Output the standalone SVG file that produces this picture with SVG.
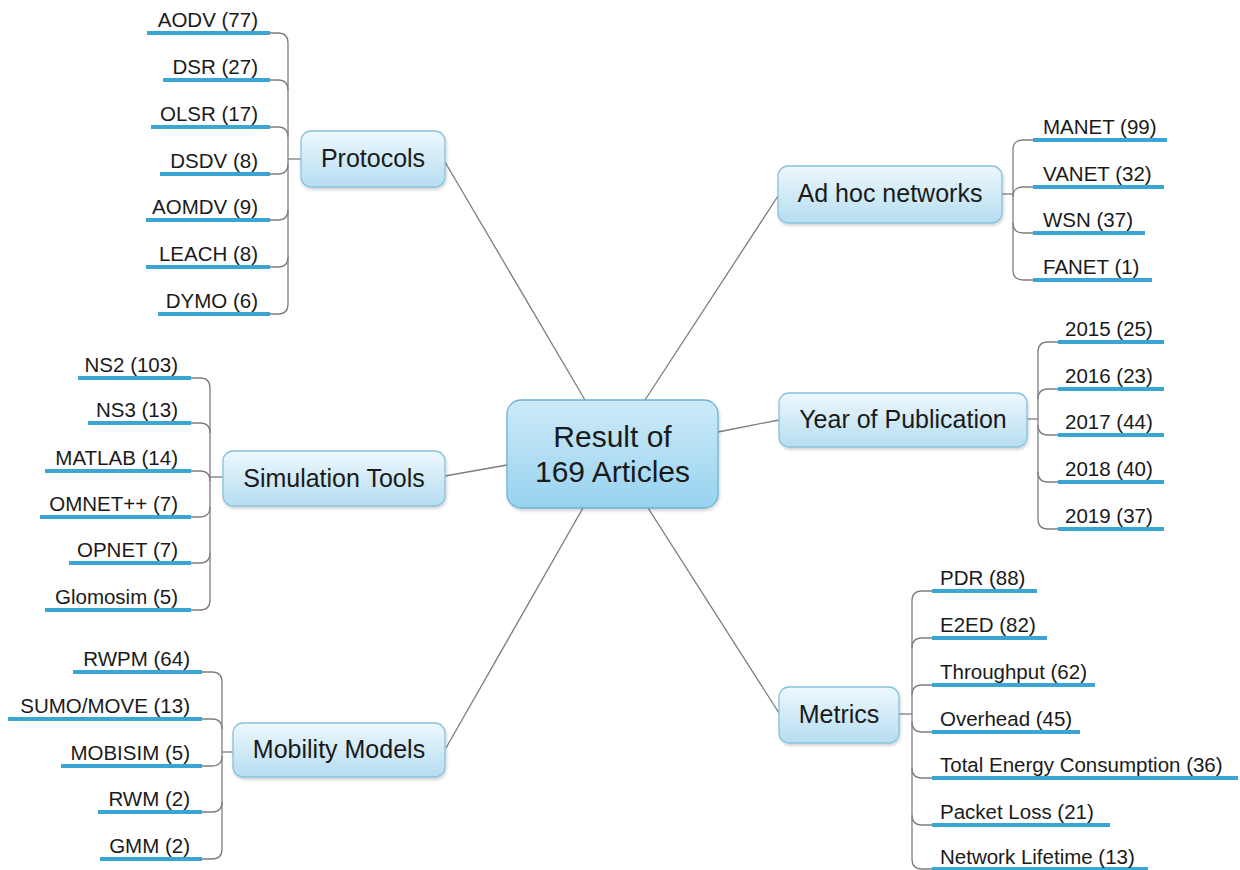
<svg xmlns="http://www.w3.org/2000/svg" width="1240" height="870" viewBox="0 0 1240 870">
<defs>
  <linearGradient id="gBranch" x1="0" y1="0" x2="0" y2="1">
    <stop offset="0" stop-color="#edf8fd"/>
    <stop offset="1" stop-color="#b6ddf0"/>
  </linearGradient>
  <linearGradient id="gCenter" x1="0" y1="0" x2="0" y2="1">
    <stop offset="0" stop-color="#cdebf8"/>
    <stop offset="1" stop-color="#97d2ef"/>
  </linearGradient>
  <filter id="sh" x="-10%" y="-10%" width="130%" height="140%">
    <feDropShadow dx="1" dy="2" stdDeviation="1.5" flood-color="#000" flood-opacity="0.18"/>
  </filter>
</defs>
<style>
  .branch rect { fill: url(#gBranch); stroke: #86c2de; stroke-width: 1.3; filter: url(#sh); }
  .center rect { fill: url(#gCenter); stroke: #6cb2d5; stroke-width: 1.3; filter: url(#sh); }
  .branch text { font-family: "Liberation Sans", Arial, sans-serif; font-size: 25px; fill: #1a1a1a; text-anchor: middle; }
  .center text { font-family: "Liberation Sans", Arial, sans-serif; font-size: 30px; fill: #1a1a1a; text-anchor: middle; }
  .leaf text { font-family: "Liberation Sans", Arial, sans-serif; font-size: 20.5px; fill: #1a1a1a; }
  .leaf.l text { text-anchor: end; }
  .leaf.r text { text-anchor: start; }
  .leaf line { stroke: #3ba5d3; stroke-width: 4; }
  #connectors path, #connectors line { fill: none; stroke: #7d7d7d; stroke-width: 1.3; }
</style>
<rect width="1240" height="870" fill="#ffffff"/>

<g id="connectors">
  <!-- center to branches -->
  <line x1="445" y1="162" x2="585" y2="400"/>
  <line x1="778" y1="196" x2="645" y2="400"/>
  <line x1="779" y1="420" x2="718" y2="432"/>
  <line x1="445" y1="476" x2="507" y2="465"/>
  <line x1="446" y1="748" x2="583" y2="508"/>
  <line x1="779" y1="713" x2="648" y2="508"/>

  <!-- Protocols bracket: xv=288 -->
  <path d="M301 159 H288"/>
  <path d="M288 43 V304"/>
  <path d="M288 43 Q288 33 278 33 H270"/>
  <path d="M288 90 Q288 80 278 80 H270"/>
  <path d="M288 137 Q288 127 278 127 H270"/>
  <path d="M288 164 Q288 174 278 174 H270"/>
  <path d="M288 210 Q288 220 278 220 H270"/>
  <path d="M288 257 Q288 267 278 267 H270"/>
  <path d="M288 304 Q288 314 278 314 H270"/>

  <!-- Simulation Tools bracket: xv=210 -->
  <path d="M223 477 H210"/>
  <path d="M210 388 V600"/>
  <path d="M210 388 Q210 378 200 378 H191"/>
  <path d="M210 433 Q210 423 200 423 H191"/>
  <path d="M210 481 Q210 471 200 471 H191"/>
  <path d="M210 507 Q210 517 200 517 H191"/>
  <path d="M210 553 Q210 563 200 563 H191"/>
  <path d="M210 600 Q210 610 200 610 H191"/>

  <!-- Mobility Models bracket: xv=222 -->
  <path d="M233 752 H222"/>
  <path d="M222 682 V849"/>
  <path d="M222 682 Q222 672 212 672 H202"/>
  <path d="M222 729 Q222 719 212 719 H202"/>
  <path d="M222 756 Q222 766 212 766 H202"/>
  <path d="M222 802 Q222 812 212 812 H202"/>
  <path d="M222 849 Q222 859 212 859 H202"/>

  <!-- Ad hoc networks bracket: xv=1013 -->
  <path d="M1002 194 H1013"/>
  <path d="M1013 150 V270"/>
  <path d="M1013 150 Q1013 140 1023 140 H1033"/>
  <path d="M1013 197 Q1013 187 1023 187 H1033"/>
  <path d="M1013 223 Q1013 233 1023 233 H1033"/>
  <path d="M1013 270 Q1013 280 1023 280 H1033"/>

  <!-- Year of Publication bracket: xv=1038 -->
  <path d="M1027 419 H1038"/>
  <path d="M1038 352 V519"/>
  <path d="M1038 352 Q1038 342 1048 342 H1058"/>
  <path d="M1038 399 Q1038 389 1048 389 H1058"/>
  <path d="M1038 425 Q1038 435 1048 435 H1058"/>
  <path d="M1038 472 Q1038 482 1048 482 H1058"/>
  <path d="M1038 519 Q1038 529 1048 529 H1058"/>

  <!-- Metrics bracket: xv=912 -->
  <path d="M899 714 H912"/>
  <path d="M912 601 V859"/>
  <path d="M912 601 Q912 591 922 591 H932"/>
  <path d="M912 648 Q912 638 922 638 H932"/>
  <path d="M912 695 Q912 685 922 685 H932"/>
  <path d="M912 722 Q912 732 922 732 H932"/>
  <path d="M912 768 Q912 778 922 778 H932"/>
  <path d="M912 815 Q912 825 922 825 H932"/>
  <path d="M912 859 Q912 869 922 869 H932"/>
</g>

<!-- Center -->
<g id="center" class="center">
  <rect x="507" y="400" width="211" height="108" rx="14" ry="14"/>
  <text x="612.5" y="447">Result of</text>
  <text x="612.5" y="482">169 Articles</text>
</g>

<!-- Branch nodes -->
<g id="protocols" class="branch">
  <rect x="301" y="131" width="144" height="56" rx="10" ry="10"/>
  <text x="373" y="167">Protocols</text>
</g>
<g id="simulation-tools" class="branch">
  <rect x="223" y="451" width="222" height="55" rx="10" ry="10"/>
  <text x="334" y="487">Simulation Tools</text>
</g>
<g id="mobility-models" class="branch">
  <rect x="233" y="723" width="212" height="54" rx="10" ry="10"/>
  <text x="339" y="758">Mobility Models</text>
</g>
<g id="adhoc-networks" class="branch">
  <rect x="778" y="166" width="224" height="57" rx="10" ry="10"/>
  <text x="890" y="202">Ad hoc networks</text>
</g>
<g id="year-of-publication" class="branch">
  <rect x="779" y="393" width="248" height="54" rx="10" ry="10"/>
  <text x="903" y="428">Year of Publication</text>
</g>
<g id="metrics" class="branch">
  <rect x="779" y="687" width="120" height="56" rx="10" ry="10"/>
  <text x="839" y="723">Metrics</text>
</g>

<!-- Protocols leaves -->
<g id="leaf-aodv" class="leaf l"><line x1="147" y1="33" x2="270" y2="33"/><text x="258" y="27">AODV (77)</text></g>
<g id="leaf-dsr" class="leaf l"><line x1="163" y1="80" x2="270" y2="80"/><text x="258" y="74">DSR (27)</text></g>
<g id="leaf-olsr" class="leaf l"><line x1="151" y1="127" x2="270" y2="127"/><text x="258" y="121">OLSR (17)</text></g>
<g id="leaf-dsdv" class="leaf l"><line x1="160" y1="174" x2="270" y2="174"/><text x="258" y="168">DSDV (8)</text></g>
<g id="leaf-aomdv" class="leaf l"><line x1="146" y1="220" x2="270" y2="220"/><text x="258" y="214">AOMDV (9)</text></g>
<g id="leaf-leach" class="leaf l"><line x1="146" y1="267" x2="270" y2="267"/><text x="258" y="261">LEACH (8)</text></g>
<g id="leaf-dymo" class="leaf l"><line x1="158" y1="314" x2="270" y2="314"/><text x="258" y="308">DYMO (6)</text></g>

<!-- Simulation Tools leaves -->
<g id="leaf-ns2" class="leaf l"><line x1="78" y1="378" x2="191" y2="378"/><text x="178" y="372">NS2 (103)</text></g>
<g id="leaf-ns3" class="leaf l"><line x1="88" y1="423" x2="191" y2="423"/><text x="178" y="417">NS3 (13)</text></g>
<g id="leaf-matlab" class="leaf l"><line x1="45" y1="471" x2="191" y2="471"/><text x="178" y="465">MATLAB (14)</text></g>
<g id="leaf-omnet" class="leaf l"><line x1="40" y1="517" x2="191" y2="517"/><text x="178" y="511">OMNET++ (7)</text></g>
<g id="leaf-opnet" class="leaf l"><line x1="69" y1="563" x2="191" y2="563"/><text x="178" y="557">OPNET (7)</text></g>
<g id="leaf-glomosim" class="leaf l"><line x1="45" y1="610" x2="191" y2="610"/><text x="178" y="604">Glomosim (5)</text></g>

<!-- Mobility Models leaves -->
<g id="leaf-rwpm" class="leaf l"><line x1="73" y1="672" x2="202" y2="672"/><text x="190" y="666">RWPM (64)</text></g>
<g id="leaf-sumo" class="leaf l"><line x1="8" y1="719" x2="202" y2="719"/><text x="190" y="713">SUMO/MOVE (13)</text></g>
<g id="leaf-mobisim" class="leaf l"><line x1="61" y1="766" x2="202" y2="766"/><text x="190" y="760">MOBISIM (5)</text></g>
<g id="leaf-rwm" class="leaf l"><line x1="98" y1="812" x2="202" y2="812"/><text x="190" y="806">RWM (2)</text></g>
<g id="leaf-gmm" class="leaf l"><line x1="100" y1="859" x2="202" y2="859"/><text x="190" y="853">GMM (2)</text></g>

<!-- Ad hoc networks leaves -->
<g id="leaf-manet" class="leaf r"><line x1="1033" y1="140" x2="1167" y2="140"/><text x="1043" y="134">MANET (99)</text></g>
<g id="leaf-vanet" class="leaf r"><line x1="1033" y1="187" x2="1164" y2="187"/><text x="1043" y="181">VANET (32)</text></g>
<g id="leaf-wsn" class="leaf r"><line x1="1033" y1="233" x2="1145" y2="233"/><text x="1043" y="227">WSN (37)</text></g>
<g id="leaf-fanet" class="leaf r"><line x1="1033" y1="280" x2="1152" y2="280"/><text x="1043" y="274">FANET (1)</text></g>

<!-- Year of Publication leaves -->
<g id="leaf-2015" class="leaf r"><line x1="1058" y1="342" x2="1164" y2="342"/><text x="1065" y="336">2015 (25)</text></g>
<g id="leaf-2016" class="leaf r"><line x1="1058" y1="389" x2="1164" y2="389"/><text x="1065" y="383">2016 (23)</text></g>
<g id="leaf-2017" class="leaf r"><line x1="1058" y1="435" x2="1164" y2="435"/><text x="1065" y="429">2017 (44)</text></g>
<g id="leaf-2018" class="leaf r"><line x1="1058" y1="482" x2="1164" y2="482"/><text x="1065" y="476">2018 (40)</text></g>
<g id="leaf-2019" class="leaf r"><line x1="1058" y1="529" x2="1164" y2="529"/><text x="1065" y="523">2019 (37)</text></g>

<!-- Metrics leaves -->
<g id="leaf-pdr" class="leaf r"><line x1="932" y1="591" x2="1037" y2="591"/><text x="940" y="585">PDR (88)</text></g>
<g id="leaf-e2ed" class="leaf r"><line x1="932" y1="638" x2="1047" y2="638"/><text x="940" y="632">E2ED (82)</text></g>
<g id="leaf-throughput" class="leaf r"><line x1="932" y1="685" x2="1095" y2="685"/><text x="940" y="679">Throughput (62)</text></g>
<g id="leaf-overhead" class="leaf r"><line x1="932" y1="732" x2="1080" y2="732"/><text x="940" y="726">Overhead (45)</text></g>
<g id="leaf-energy" class="leaf r"><line x1="932" y1="778" x2="1238" y2="778"/><text x="940" y="772">Total Energy Consumption (36)</text></g>
<g id="leaf-packetloss" class="leaf r"><line x1="932" y1="825" x2="1110" y2="825"/><text x="940" y="819">Packet Loss (21)</text></g>
<g id="leaf-lifetime" class="leaf r"><line x1="932" y1="869" x2="1148" y2="869"/><text x="940" y="864">Network Lifetime (13)</text></g>
</svg>
